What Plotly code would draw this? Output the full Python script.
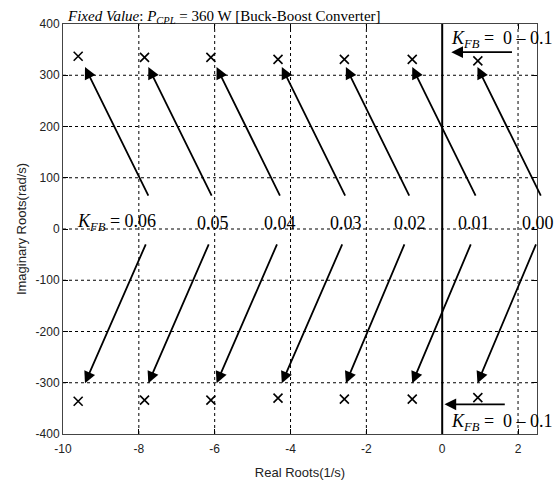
import plotly.graph_objects as go

# ---- data ----
kfb_labels = ["0.06", "0.05", "0.04", "0.03", "0.02", "0.01", "0.00"]
root_re = [-9.6, -7.85, -6.1, -4.33, -2.58, -0.79, 0.94]
root_im_upper = [337, 335, 335, 331, 331, 331, 328]
root_im_lower = [-336, -334, -334, -330, -332, -332, -329]

arrow_tip_re = [-9.42, -7.75, -5.95, -4.23, -2.54, -0.79, 0.93]
arrow_up_tail_re = [-7.73, -6.06, -4.26, -2.54, -0.85, 0.90, 2.62]
arrow_up_tail_im = 62
arrow_up_tip_im = 316
arrow_dn_tail_re = [-7.80, -6.14, -4.34, -2.62, -0.98, 0.77, 2.49]
arrow_dn_tail_im = -27
arrow_dn_tip_im = -301

label_re = [-9.68, -6.51, -4.74, -3.02, -1.32, 0.37, 2.04]
label_im = 12

x_ticks = [-10, -8, -6, -4, -2, 0, 2]
y_ticks = [-400, -300, -200, -100, 0, 100, 200, 300, 400]

serif = "Liberation Serif, Times New Roman, serif"
sans = "Arial, Liberation Sans, sans-serif"

fig = go.Figure()

# grid lines (dashed) as shapes
shapes = []
for xv in [-8, -6, -4, -2, 2]:
    shapes.append(dict(type="line", xref="x", yref="y", x0=xv, x1=xv, y0=-400, y1=400,
                       line=dict(color="black", width=1, dash="3px,3px"), layer="below"))
for yv in [-300, -200, -100, 0, 100, 200, 300]:
    shapes.append(dict(type="line", xref="x", yref="y", x0=-10, x1=2.5, y0=yv, y1=yv,
                       line=dict(color="black", width=1, dash="3px,3px"), layer="below"))
# solid imaginary axis at Re = 0
shapes.append(dict(type="line", xref="x", yref="y", x0=0, x1=0, y0=-400, y1=400,
                   line=dict(color="black", width=2)))

fig.add_trace(go.Scatter(
    x=root_re + root_re, y=root_im_upper + root_im_lower, mode="markers",
    marker=dict(symbol="x-thin-open", size=9, color="black", line=dict(color="black", width=1.6)),
    showlegend=False, hoverinfo="skip"))

ann = []
for i in range(len(kfb_labels)):
    ann.append(dict(x=arrow_tip_re[i], y=arrow_up_tip_im, ax=arrow_up_tail_re[i], ay=arrow_up_tail_im,
                    xref="x", yref="y", axref="x", ayref="y", showarrow=True, text="",
                    arrowhead=2, arrowsize=1.3, arrowwidth=1.8, arrowcolor="black", standoff=0))
    ann.append(dict(x=arrow_tip_re[i], y=arrow_dn_tip_im, ax=arrow_dn_tail_re[i], ay=arrow_dn_tail_im,
                    xref="x", yref="y", axref="x", ayref="y", showarrow=True, text="",
                    arrowhead=2, arrowsize=1.3, arrowwidth=1.8, arrowcolor="black", standoff=0))
    txt = ("<i>K</i><sub><i>FB</i></sub> = " if i == 0 else "") + kfb_labels[i]
    ann.append(dict(x=label_re[i], y=label_im, xref="x", yref="y", text=txt, showarrow=False,
                    xanchor="left", yanchor="middle", font=dict(family=serif, size=18, color="black")))

# horizontal arrows (K_FB sweep 0 - 0.1)
ann.append(dict(x=0.24, y=345, ax=1.88, ay=345, xref="x", yref="y", axref="x", ayref="y",
                showarrow=True, text="", arrowhead=2, arrowsize=1.3, arrowwidth=1.8,
                arrowcolor="black", standoff=0))
ann.append(dict(x=0.06, y=-342, ax=1.69, ay=-342, xref="x", yref="y", axref="x", ayref="y",
                showarrow=True, text="", arrowhead=2, arrowsize=1.3, arrowwidth=1.8,
                arrowcolor="black", standoff=0))
ann.append(dict(x=0.19, y=369, xref="x", yref="y", text="<i>K</i><sub><i>FB</i></sub> =  0 \u2013 0.1",
                showarrow=False, xanchor="left", yanchor="middle",
                font=dict(family=serif, size=18, color="black")))
ann.append(dict(x=0.19, y=-377, xref="x", yref="y", text="<i>K</i><sub><i>FB</i></sub> =  0 \u2013 0.1",
                showarrow=False, xanchor="left", yanchor="middle",
                font=dict(family=serif, size=18, color="black")))

# title
ann.append(dict(x=0.005, y=1, xref="paper", yref="paper", xanchor="left", yanchor="bottom",
                text="<i>Fixed Value</i>: <i>P</i><sub><i>CPL</i></sub> = 360 W [Buck-Boost Converter]",
                showarrow=False, font=dict(family=serif, size=15, color="black"), yshift=-4))

fig.update_layout(
    width=558, height=480, margin=dict(l=63, r=21, t=24, b=46),
    plot_bgcolor="white", paper_bgcolor="white",
    shapes=shapes, annotations=ann, showlegend=False,
    xaxis=dict(range=[-10, 2.5], tickvals=x_ticks, ticktext=[str(v) for v in x_ticks],
               showgrid=False, zeroline=False, showline=True, linecolor="#444", linewidth=1,
               mirror="ticks", ticks="inside", ticklen=5, tickcolor="black", ticklabelstandoff=4,
               automargin=False,
               tickfont=dict(family=sans, size=12, color="#222"),
               title=dict(text="Real Roots(1/s)", font=dict(family=sans, size=13, color="#222"))),
    yaxis=dict(range=[-400, 400], tickvals=y_ticks, ticktext=[str(v) for v in y_ticks],
               showgrid=False, zeroline=False, showline=True, linecolor="#444", linewidth=1,
               mirror="ticks", ticks="inside", ticklen=5, tickcolor="black",
               automargin=True,
               tickfont=dict(family=sans, size=12, color="#222"),
               title=dict(text="Imaginary Roots(rad/s)", font=dict(family=sans, size=13, color="#222"),
                          standoff=6)),
)

fig.write_html("out.html")
